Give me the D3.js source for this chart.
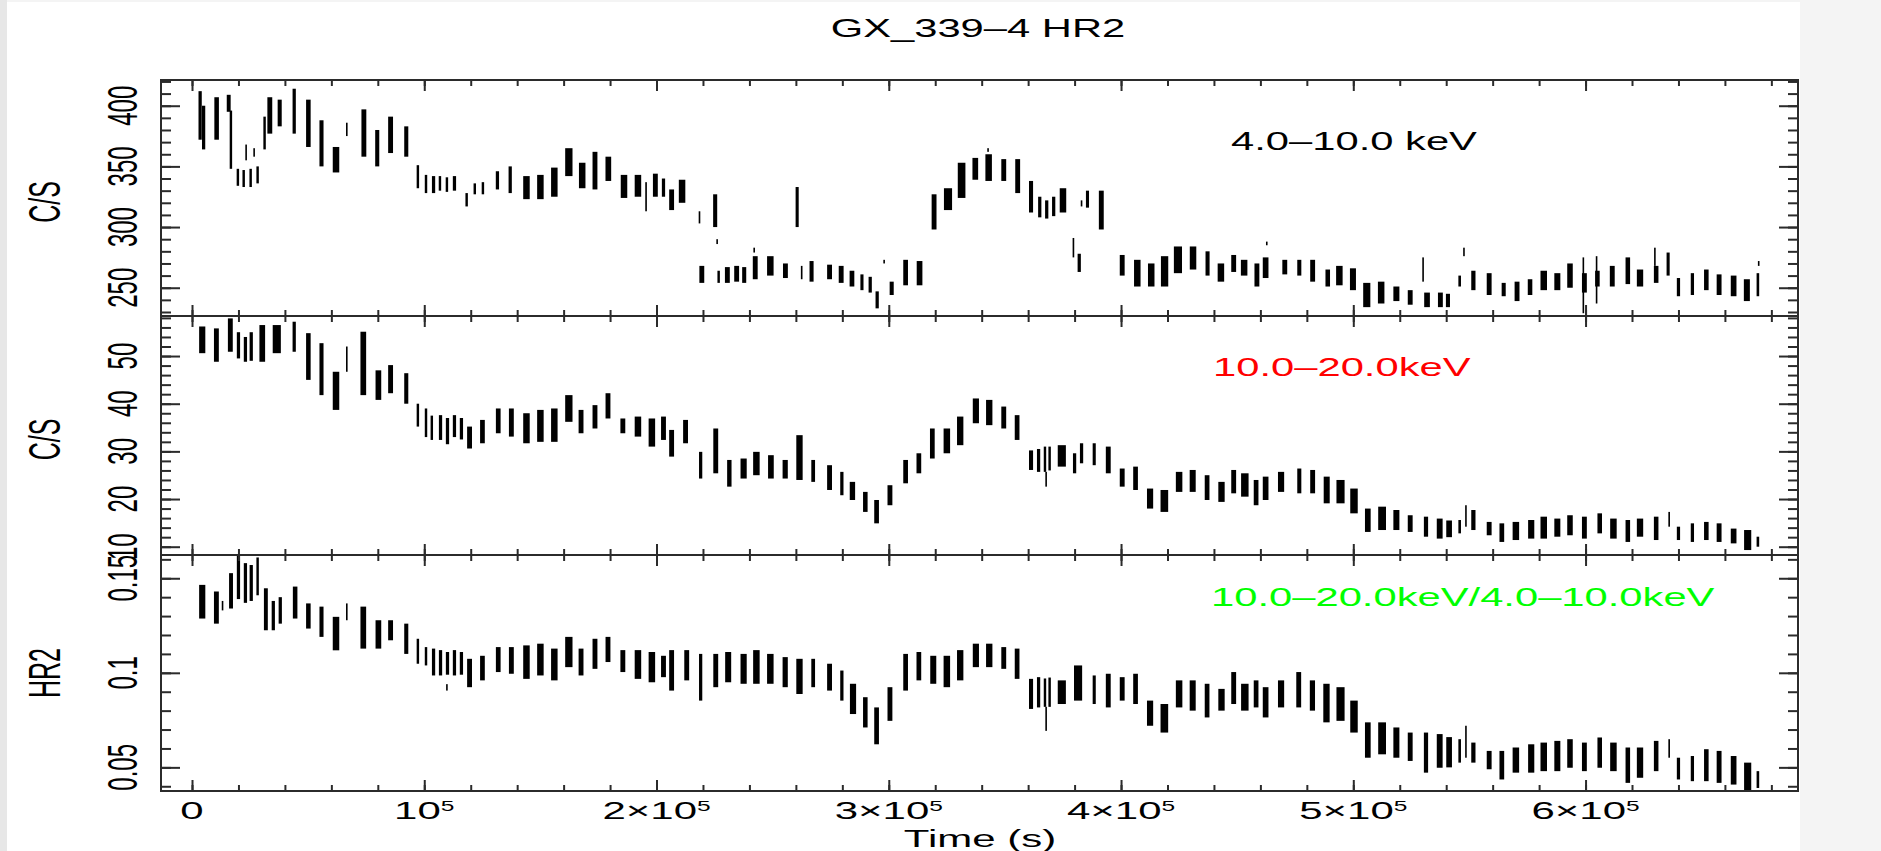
<!DOCTYPE html>
<html>
<head>
<meta charset="utf-8">
<script src="https://cdnjs.cloudflare.com/ajax/libs/d3/7.8.5/d3.min.js"></script>
<style>
  html, body { margin: 0; padding: 0; background: #f4f4f4; }
  svg { display: block; }
  text { font-family: "Liberation Sans", Arial, Helvetica, sans-serif; }
</style>
</head>
<body>
<svg id="chart" width="1881" height="851"></svg>
<script>
// Each entry is one orbit-long cluster of binned points: [tStart (ks), tEnd (ks), low, high]

// 4.0-10.0 keV count rate (C/S)
const softRate = [
  [2.5, 4.5, 372, 412], [4.0, 6.0, 364, 400], [9.2, 12, 372, 407], [14.6, 17, 395, 409],
  [16, 17.5, 348, 396], [19, 20.5, 334, 348], [21.5, 23, 333, 347], [24.5, 26, 333, 348],
  [27.5, 29, 336, 350], [23, 23.6, 355, 368], [26.5, 27, 358, 365], [30.5, 32, 364, 391],
  [32, 35, 377, 407], [36.5, 39, 383, 405], [43, 45, 377, 414], [48.7, 51.5, 366, 405],
  [54.5, 57, 350, 388], [60, 64, 345, 366], [66.3, 67, 375, 386], [72.5, 75.5, 358, 397],
  [78.5, 81, 350, 380], [84, 87, 361, 391], [91, 93.5, 358, 383], [96.5, 98, 332, 351],
  [100, 101.5, 328, 343], [103, 105, 328, 342], [106, 107.5, 330, 342], [109, 110.5, 329, 341],
  [112, 114, 330, 342], [117.5, 119, 317, 328], [121, 122.5, 327, 336], [124.5, 126, 327, 337],
  [130.5, 132.5, 331, 346], [136, 138, 328, 350], [142, 146, 323, 342], [148, 152, 323, 343],
  [154, 158, 325, 349], [160, 164.5, 342, 365], [166, 170, 332, 353], [172, 175, 331, 362],
  [177.5, 181, 338, 358], [184, 188, 324, 343], [190, 194, 325, 343], [195, 196, 313, 337],
  [198, 201, 325, 344], [202, 204, 325, 340], [205, 208, 314, 331], [209, 213, 320, 339],
  [218, 219, 303, 313], [224, 226.5, 300, 327], [225.8, 226.4, 286, 290], [218, 221, 254, 268],
  [226, 227.5, 254, 264], [229, 232, 254, 267], [233, 236, 255, 268], [236.5, 239, 254, 267],
  [241, 244, 257, 276], [241.8, 242.3, 279, 283], [247, 251, 260, 276], [254, 257, 258, 270],
  [259.6, 261.5, 300, 333], [262, 263, 257, 268], [265.5, 268, 255, 272], [273, 276, 257, 269],
  [278, 281, 254, 268], [282.7, 285.6, 251, 264], [287.5, 289.4, 248, 261], [291, 293, 246, 259],
  [294, 296, 233, 247], [297.7, 298.3, 270, 273], [300, 302.5, 244, 255], [305.8, 308.7, 252, 273],
  [311.5, 315, 252, 272], [318, 321, 298, 327], [323, 328, 314, 332], [329, 333.7, 324, 353],
  [335.5, 339, 339, 357], [341, 345, 338, 360], [342.5, 343, 362, 365], [348, 351, 338, 356],
  [354, 357, 328, 356], [360, 362.5, 312, 338], [364, 366, 308, 325], [367, 369, 307, 322],
  [370, 372, 309, 325], [373, 377, 312, 332], [379, 380, 275, 291], [381, 383, 263, 278],
  [382.5, 383.5, 317, 322], [384.6, 386.5, 316, 330], [390, 393, 298, 330], [399, 402, 260, 277],
  [405, 409, 251, 273], [411, 415, 251, 270], [416.5, 421, 251, 276], [422, 427, 262, 284],
  [429, 433, 265, 284], [436, 438.5, 260, 280], [441, 445, 255, 270], [447, 450, 263, 277],
  [451, 455, 260, 273], [457, 460, 251, 270], [460.5, 464, 258, 275], [462.5, 463, 285, 288],
  [469, 472, 261, 273], [475.5, 478, 260, 273], [481, 484, 255, 273], [487.6, 490.4, 251, 265],
  [492, 496, 252, 268], [498, 501.7, 248, 266], [503.6, 508, 234, 254], [510, 514, 237, 255],
  [516.7, 520.4, 239, 251], [523, 526, 236, 248], [529.8, 530.3, 255, 275], [530, 533.5, 234, 246],
  [536, 539, 234, 246], [539.5, 542, 234, 245], [545, 546.6, 251, 260], [547.4, 547.9, 276, 283],
  [550.4, 553, 248, 264], [557, 560, 244, 262], [563.5, 566, 243, 254], [569, 572, 239, 255],
  [574.7, 577.5, 244, 257], [580, 584, 248, 264], [586, 589.7, 248, 262], [591.6, 595, 250, 270],
  [598, 601, 246, 262], [598.8, 599.3, 229, 275], [603.7, 606.5, 251, 264], [604.5, 605, 237, 276],
  [610, 613, 251, 268], [616.8, 619.6, 253, 275], [621.5, 625.4, 251, 265], [629, 631.8, 254, 268],
  [629.6, 630.1, 268, 283], [634.6, 636.5, 260, 279], [639, 641, 243, 258], [645, 647, 244, 262],
  [650.6, 653.4, 248, 265], [656, 659, 244, 261], [662, 665.5, 243, 260], [667.6, 671.3, 239, 257],
  [673.4, 675, 243, 262], [674.3, 674.8, 268, 272]
];

// 10.0-20.0 keV count rate (C/S)
const hardRate = [
  [2.5, 6.3, 50.6, 56.2], [9, 12, 48.8, 55.8], [15, 18, 50.9, 57.9], [19, 21, 49.5, 55],
  [22, 24, 48.8, 54], [24.5, 26.5, 49, 55], [28.5, 32, 48.8, 56.5], [34, 39, 50.6, 56.5],
  [43, 45, 50.9, 57.2], [48.7, 51.5, 45, 54.8], [54.5, 57, 41.8, 52.7], [60, 64, 38.7, 46.7],
  [66.3, 67, 46.7, 52], [72, 75.5, 41.8, 55.1], [78.5, 82, 40.8, 47], [84, 87, 42.2, 48.1],
  [91, 93.5, 40, 46.4], [96.5, 98, 35.2, 40], [100, 101.5, 33, 39], [102.5, 104, 32.4, 37.5],
  [106, 108, 32.4, 37.6], [109, 111, 31.5, 37], [112, 114, 33, 37.6], [115, 117, 32.5, 37],
  [118, 121, 30.6, 35.2], [123.6, 126.5, 31.7, 36.6], [130.4, 133.3, 33.8, 39], [136, 139, 33.1, 39],
  [142, 146, 31.7, 38], [148, 152, 32, 38.7], [154, 158, 32, 39], [160, 164.5, 36.2, 41.8],
  [166, 169, 33.8, 38.7], [172, 175, 34.8, 39.7], [177.6, 180.6, 36.9, 42.2], [184, 187, 33.8, 36.9],
  [190, 194, 33.1, 37.3], [196, 200, 31, 36.9], [201.5, 204.5, 32.4, 37.3], [205, 208, 28.9, 34.5],
  [211, 214, 31.7, 36.6], [218, 220, 24.3, 29.9], [224, 227, 25.4, 34.8], [230, 232.7, 22.6, 28.2],
  [235.6, 239.4, 24.3, 28.5], [241, 245, 25, 29.9], [247.5, 251, 24.3, 29.2], [253.8, 257, 24.3, 28.2],
  [259.6, 263.5, 24, 33.4], [266.3, 268.6, 23.6, 28.2], [273, 276, 21.9, 27.1], [278.8, 280.8, 20.8, 25.7],
  [282.7, 286, 19.8, 23.6], [288.5, 291.3, 17.3, 21.5], [293.3, 296.2, 14.9, 19.8], [299, 302, 18.7, 22.9],
  [305.8, 308.7, 23.3, 28.2], [311.5, 314.4, 25.4, 29.6], [317.3, 320.2, 28.5, 34.8], [323, 327, 29.6, 34.8],
  [328.8, 332.7, 31.3, 37.3], [335.6, 339.4, 35.9, 41.1], [341.3, 345.2, 35.5, 40.8], [348, 351, 34.8, 39.4],
  [353.8, 356.7, 32.4, 37.6], [360, 362.5, 26.1, 30.2], [363.5, 365.5, 25.7, 30.5], [366.5, 368, 25.7, 31],
  [367.5, 368, 22.6, 25.7], [368.5, 370, 26, 31], [372, 377, 26.8, 31.3], [379, 381, 25.4, 29.6],
  [382, 384, 27.5, 31.7], [387.5, 389.4, 27.1, 31.7], [393, 396, 25.4, 31], [399, 402, 22.6, 26.4],
  [404.8, 407.7, 21.9, 26.8], [410.6, 414.4, 18, 22.2], [416.3, 421, 17.3, 21.9], [423, 427, 21.5, 25.7],
  [429, 432.7, 21.5, 26.1], [435.6, 438.5, 19.8, 25], [441.3, 445.2, 19.4, 23.6], [447, 450, 21.2, 26.1],
  [451, 455.6, 20.5, 25.4], [456.7, 459.6, 18.7, 24], [460.5, 464, 19.8, 24.7], [467, 470.8, 21.5, 25.7],
  [475.5, 478, 21.2, 26.4], [481, 484, 21.2, 26.1], [486.7, 490.4, 19.1, 24.7], [492, 497, 19.1, 24],
  [498, 502.6, 17, 22.2], [504.5, 508, 13.1, 18], [510, 514.8, 13.5, 18.4], [516.7, 520.4, 13.5, 17.7],
  [523, 526, 13.1, 16.6], [530, 532.6, 12.1, 16.3], [535.4, 539, 11.7, 15.9], [539.5, 543, 12, 15.5],
  [545, 546.6, 12.8, 15.6], [548.2, 548.8, 14.2, 18.7], [550.4, 553, 13.5, 17.7], [557, 560, 12.4, 15.2],
  [562.5, 565.4, 11, 14.9], [568, 572, 11.4, 15.2], [574.7, 578.5, 11.7, 15.6], [580, 584, 11.7, 16.3],
  [586, 589.7, 12.1, 15.9], [591.6, 595, 12.4, 16.6], [598, 601, 11.7, 16.3], [604.7, 607.5, 12.8, 17],
  [610, 614, 11.7, 15.9], [616.8, 619.6, 11, 15.6], [621.5, 625.4, 12.1, 15.9], [629, 631.8, 11.4, 16.3],
  [635.5, 636.5, 14.2, 17.3], [639, 641, 11.4, 14.2], [645, 647, 11, 14.9], [650.6, 653.4, 11.4, 15.2],
  [656, 659, 11, 14.9], [662, 665.5, 10.7, 13.8], [667.6, 672, 9.3, 13.5], [673.4, 675, 10, 12.1]
];

// hardness ratio HR2 = (10-20 keV)/(4-10 keV)
const hardness = [
  [2.5, 6.3, 0.1287, 0.1465], [9, 12, 0.126, 0.143], [12.8, 13.5, 0.133, 0.138], [15.6, 18, 0.134, 0.1527],
  [19, 21, 0.139, 0.162], [22, 24, 0.137, 0.158], [24.5, 26.5, 0.138, 0.157], [27.5, 29, 0.141, 0.161],
  [30.6, 33, 0.1225, 0.1447], [34, 36, 0.1225, 0.138], [37, 39, 0.126, 0.140], [43, 45.8, 0.1287, 0.1456],
  [48.7, 51.5, 0.1234, 0.1367], [54.5, 57, 0.119, 0.135], [60, 64, 0.1119, 0.1296], [66.3, 67, 0.1278, 0.1367],
  [72, 75.5, 0.1128, 0.135], [78.5, 82, 0.1128, 0.1278], [84, 87, 0.1172, 0.1278], [91, 93.5, 0.110, 0.126],
  [96.5, 98, 0.1048, 0.118], [100, 101.5, 0.1039, 0.1136], [103, 105, 0.0986, 0.1128], [106, 108, 0.0986, 0.112],
  [109.5, 110, 0.0906, 0.094], [109, 111, 0.099, 0.111], [112, 114, 0.0986, 0.112], [115, 117, 0.099, 0.111],
  [118, 121, 0.0924, 0.1074], [123.6, 126.5, 0.096, 0.109], [130.4, 133.3, 0.1004, 0.1136], [136, 139, 0.0995, 0.1136],
  [142, 146, 0.0968, 0.1145], [148, 152, 0.0986, 0.1154], [154, 158, 0.096, 0.1128], [160, 164.5, 0.103, 0.119],
  [166, 169, 0.0986, 0.1128], [172, 175, 0.1021, 0.118], [177.6, 180.6, 0.1057, 0.119], [184, 187, 0.1004, 0.112],
  [190, 194, 0.0968, 0.112], [196, 200, 0.095, 0.111], [201.5, 204.5, 0.0977, 0.109], [205, 208, 0.0906, 0.112],
  [211.5, 214.5, 0.096, 0.112], [218, 220, 0.0853, 0.110], [224, 227, 0.0924, 0.110], [229, 232.7, 0.095, 0.111],
  [235.6, 239.4, 0.0942, 0.110], [241, 245, 0.0942, 0.112], [247, 251, 0.0942, 0.110], [253.8, 257, 0.0924, 0.1083],
  [259.6, 263.5, 0.0888, 0.1074], [266.3, 268.6, 0.0924, 0.1074], [273, 276, 0.0906, 0.1048], [278.8, 280.8, 0.0853, 0.1012],
  [282.7, 286.5, 0.0782, 0.0942], [288.5, 291.3, 0.0711, 0.0871], [293.3, 296.2, 0.0622, 0.0817], [299, 302, 0.0746, 0.0924],
  [305.8, 308.7, 0.0906, 0.110], [311.5, 314.4, 0.096, 0.111], [317.3, 321, 0.0942, 0.109], [323, 327, 0.0924, 0.109],
  [328.8, 332.7, 0.096, 0.112], [335.6, 339.4, 0.103, 0.1154], [341.3, 345.2, 0.103, 0.1154], [348, 351, 0.1021, 0.1136],
  [353.8, 356.7, 0.0968, 0.1128], [360, 362.5, 0.0809, 0.0968], [363.5, 365.5, 0.0817, 0.0977], [366.5, 368, 0.082, 0.097],
  [367.5, 368, 0.0693, 0.082], [368.5, 370, 0.082, 0.0975], [372, 377, 0.0835, 0.096], [379, 384, 0.0853, 0.1039],
  [387.5, 389.4, 0.0835, 0.0986], [393, 396, 0.0817, 0.0995], [399, 402, 0.0853, 0.0977], [404.8, 407.7, 0.0835, 0.0995],
  [410.6, 414.4, 0.072, 0.0853], [416.3, 421, 0.0684, 0.0835], [423, 427, 0.0817, 0.096], [429, 432.7, 0.080, 0.096],
  [435.6, 438.5, 0.0764, 0.0942], [441.3, 445.2, 0.080, 0.0915], [447, 450, 0.0835, 0.1004], [451, 455.6, 0.080, 0.0942],
  [456.7, 459.6, 0.0817, 0.096], [460.5, 464, 0.0764, 0.0924], [467, 470.8, 0.0817, 0.096], [475, 478, 0.0817, 0.1004],
  [480.8, 484, 0.080, 0.096], [486.5, 490.4, 0.0738, 0.0942], [492, 497, 0.0746, 0.0924], [498, 502.6, 0.0684, 0.0853],
  [504.5, 508, 0.0551, 0.0738], [510, 514.8, 0.0569, 0.0738], [516.7, 520.4, 0.0551, 0.0711], [523, 526, 0.0534, 0.0684],
  [530, 532.6, 0.0472, 0.0684], [535.4, 539, 0.0498, 0.0676], [539.5, 543, 0.050, 0.066], [545, 546.6, 0.0525, 0.0649],
  [548.2, 548.8, 0.0551, 0.072], [550.4, 553, 0.0525, 0.0631], [557, 560, 0.049, 0.0587], [562.5, 565.4, 0.0436, 0.0587],
  [568, 572, 0.0472, 0.0605], [574.7, 578.5, 0.0472, 0.0622], [580, 584, 0.048, 0.0631], [586, 589.7, 0.048, 0.064],
  [591.6, 595, 0.0498, 0.0649], [598, 601, 0.048, 0.0631], [604.7, 607.5, 0.0498, 0.0658], [610, 614, 0.048, 0.0631],
  [616.8, 619.6, 0.0418, 0.0605], [621.5, 625.4, 0.0445, 0.0605], [629, 631.8, 0.048, 0.064], [635.5, 636.5, 0.0551, 0.0649],
  [639, 641, 0.0436, 0.0551], [645, 647, 0.0427, 0.056], [650.6, 653.4, 0.0427, 0.0596], [656, 659, 0.0418, 0.0587],
  [662, 665.5, 0.0409, 0.056], [667.6, 672, 0.0374, 0.0525], [673.4, 675, 0.0391, 0.048]
];

// tick labels
const xTickValues = [0, 1e5, 2e5, 3e5, 4e5, 5e5, 6e5];
const xTickLabels = [["0", ""], ["10", "5"], ["2×10", "5"], ["3×10", "5"], ["4×10", "5"], ["5×10", "5"], ["6×10", "5"]];
const softTicks = [250, 300, 350, 400];
const hardTicks = [10, 20, 30, 40, 50];
const hrTicks = [0.05, 0.1, 0.15];
const hrTickLabels = ["0.05", "0.1", "0.15"];

const INK = "#2b2b2b";
const AXIS_FONT = 24, AXIS_STRETCH = 1.75;
const LABEL_FONT = 25, LABEL_STRETCH = 1.67;
// the binned points only fill the middle part of each orbit's time span
const FILL = 0.7;

const svg = d3.select("#chart");

// screenshot-like background: grey margins round a white plot page
svg.append("rect").attr("width", 1881).attr("height", 851).attr("fill", "#f4f4f4");
svg.append("rect").attr("width", 7).attr("height", 851).attr("fill", "#e7e7e7");
svg.append("rect").attr("x", 7).attr("y", 2).attr("width", 1793).attr("height", 849).attr("fill", "#fff");

const x = d3.scaleLinear().domain([-13350, 691470]).range([161, 1798]);

const panels = [
  { data: softRate, top: 80, bottom: 316, domain: [226.7, 421.2], minor: d3.range(23, 43).map(d => d * 10),
    ticks: softTicks, tickText: softTicks.map(String), ylabel: "C/S", ylabelShift: 4,
    note: "4.0–10.0 keV", noteColor: "#000", noteX: 1231, noteY: 150 },
  { data: hardRate, top: 316, bottom: 555, domain: [8.26, 58.4], minor: d3.range(5, 30).map(d => d * 2),
    ticks: hardTicks, tickText: hardTicks.map(String), ylabel: "C/S", ylabelShift: 4,
    note: "10.0–20.0keV", noteColor: "#ff0000", noteX: 1213, noteY: 376 },
  { data: hardness, top: 555, bottom: 791, domain: [0.0375, 0.1623], minor: d3.range(4, 17).map(d => d / 100),
    ticks: hrTicks, tickText: hrTickLabels, ylabel: "HR2", ylabelShift: 0,
    note: "10.0–20.0keV/4.0–10.0keV", noteColor: "#00ff00", noteX: 1211, noteY: 606 }
];

const xMinor = d3.range(0, 35).map(d => d * 2e4);

function tickAxis(axis, values, size) {
  return axis.tickValues(values).tickSize(size).tickFormat("");
}

function styleAxis(g) {
  g.select(".domain").remove();
  g.selectAll("line").attr("stroke", INK).attr("stroke-width", 2);
}

panels.forEach(p => {
  const y = d3.scaleLinear().domain(p.domain).range([p.bottom, p.top]);
  const g = svg.append("g");

  // data clusters
  g.append("g").selectAll("rect")
    .data(p.data)
    .join("rect")
    .attr("x", d => {
      const x0 = x(d[0] * 1000), x1 = x(d[1] * 1000);
      const w = Math.max(1.6, (x1 - x0) * FILL);
      return (x0 + x1) / 2 - w / 2;
    })
    .attr("width", d => Math.max(1.6, (x(d[1] * 1000) - x(d[0] * 1000)) * FILL))
    .attr("y", d => y(d[3]))
    .attr("height", d => Math.max(1.6, y(d[2]) - y(d[3])))
    .attr("fill", "#000");

  // inward ticks on all four sides, PGPLOT style
  const L = 161, R = 1798;
  g.append("g").attr("transform", `translate(0,${p.top})`).call(tickAxis(d3.axisTop(x), xMinor, -6)).call(styleAxis);
  g.append("g").attr("transform", `translate(0,${p.top})`).call(tickAxis(d3.axisTop(x), xTickValues, -11)).call(styleAxis);
  g.append("g").attr("transform", `translate(0,${p.bottom})`).call(tickAxis(d3.axisBottom(x), xMinor, -6)).call(styleAxis);
  g.append("g").attr("transform", `translate(0,${p.bottom})`).call(tickAxis(d3.axisBottom(x), xTickValues, -11)).call(styleAxis);
  g.append("g").attr("transform", `translate(${L},0)`).call(tickAxis(d3.axisLeft(y), p.minor, -10)).call(styleAxis);
  g.append("g").attr("transform", `translate(${L},0)`).call(tickAxis(d3.axisLeft(y), p.ticks, -19)).call(styleAxis);
  g.append("g").attr("transform", `translate(${R},0)`).call(tickAxis(d3.axisRight(y), p.minor, -10)).call(styleAxis);
  g.append("g").attr("transform", `translate(${R},0)`).call(tickAxis(d3.axisRight(y), p.ticks, -19)).call(styleAxis);

  g.append("rect")
    .attr("x", L).attr("y", p.top).attr("width", R - L).attr("height", p.bottom - p.top)
    .attr("fill", "none").attr("stroke", INK).attr("stroke-width", 2);

  // y tick labels, rotated and stretched sideways
  g.append("g").selectAll("text")
    .data(p.ticks)
    .join("text")
    .attr("transform", d => `translate(137,${y(d)}) scale(${AXIS_STRETCH},1) rotate(-90)`)
    .attr("text-anchor", "middle")
    .attr("font-size", AXIS_FONT)
    .attr("fill", "#000")
    .text((d, i) => p.tickText[i]);

  // y axis title
  g.append("text")
    .attr("transform", `translate(60,${(p.top + p.bottom) / 2 + p.ylabelShift}) scale(${AXIS_STRETCH},1) rotate(-90)`)
    .attr("text-anchor", "middle")
    .attr("font-size", 25)
    .attr("fill", "#000")
    .text(p.ylabel);

  // band label
  g.append("text")
    .attr("transform", `translate(${p.noteX},${p.noteY}) scale(${LABEL_STRETCH},1)`)
    .attr("font-size", LABEL_FONT)
    .attr("fill", p.noteColor)
    .text(p.note);
});

// x tick labels on the bottom panel
const xl = svg.append("g").selectAll("text")
  .data(xTickValues)
  .join("text")
  .attr("transform", d => `translate(${x(d)},819) scale(${AXIS_STRETCH},1)`)
  .attr("text-anchor", "middle")
  .attr("font-size", AXIS_FONT)
  .attr("fill", "#000");
xl.append("tspan").text((d, i) => xTickLabels[i][0]);
xl.append("tspan").attr("font-size", 14).attr("dy", -8).text((d, i) => xTickLabels[i][1]);

svg.append("text")
  .attr("transform", `translate(980,847) scale(${AXIS_STRETCH},1)`)
  .attr("text-anchor", "middle")
  .attr("font-size", AXIS_FONT)
  .attr("fill", "#000")
  .text("Time (s)");

svg.append("text")
  .attr("transform", `translate(978,37) scale(${LABEL_STRETCH},1)`)
  .attr("text-anchor", "middle")
  .attr("font-size", LABEL_FONT)
  .attr("fill", "#000")
  .text("GX_339–4 HR2");
</script>
</body>
</html>
